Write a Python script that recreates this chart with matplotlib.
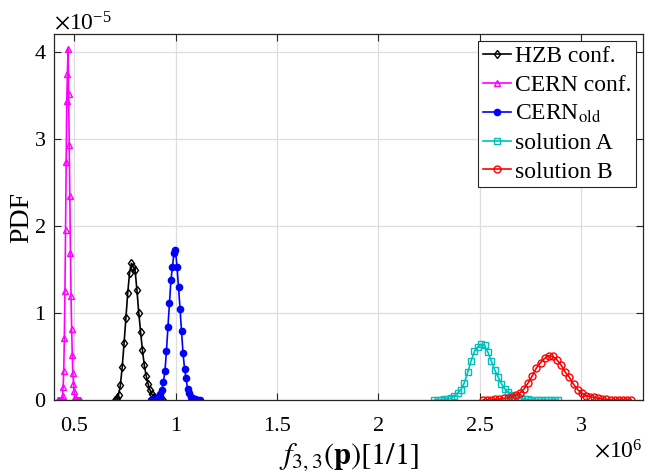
import matplotlib
matplotlib.use("Agg")
import matplotlib.pyplot as plt
from matplotlib import ticker
import numpy as np

plt.rcParams['font.family'] = ['Liberation Serif', 'DejaVu Serif']
plt.rcParams['mathtext.fontset'] = 'stix'

# x grid ends (x 1e6) and density values (x 1e-5)
hzb_range = (0.700, 0.936)
hzb_pdf = [0.00, 0.02, 0.06, 0.17, 0.38, 0.65, 0.94, 1.23, 1.46, 1.57, 1.53, 1.49,
           1.26, 1.00, 0.78, 0.57, 0.40, 0.28, 0.19, 0.12, 0.07, 0.04, 0.02, 0.01,
           0.00, 0.00, 0.00]

cern_range = (0.418, 0.529)
cern_pdf = [0.00, 0.00, 0.00, 0.00, 0.00, 0.00, 0.00, 0.02, 0.05, 0.15, 0.33, 0.71,
            1.25, 1.95, 2.73, 3.43, 3.74, 4.03, 3.51, 2.93, 2.34, 1.69, 1.20, 0.82,
            0.52, 0.31, 0.19, 0.10, 0.04, 0.01, 0.00, 0.00, 0.00, 0.00, 0.00, 0.00,
            0.00, 0.00]

old_range = (0.880, 1.118)
old_pdf = [0.00, 0.00, 0.01, 0.01, 0.02, 0.04, 0.07, 0.11, 0.21, 0.33, 0.56, 0.84,
           1.11, 1.38, 1.53, 1.69, 1.72, 1.53, 1.30, 1.05, 0.79, 0.54, 0.36, 0.25,
           0.13, 0.08, 0.04, 0.02, 0.01, 0.01, 0.00, 0.00, 0.00]

solA_range = (2.275, 2.886)
solA_pdf = [0.00, 0.00, 0.00, 0.01, 0.01, 0.02, 0.05, 0.08, 0.12, 0.20, 0.32, 0.45,
            0.56, 0.61, 0.64, 0.63, 0.55, 0.45, 0.35, 0.27, 0.19, 0.13, 0.09, 0.06,
            0.04, 0.03, 0.02, 0.01, 0.01, 0.00, 0.00, 0.00, 0.00, 0.00, 0.00, 0.00,
            0.00, 0.00]

solB_range = (2.515, 3.246)
solB_pdf = [0.00, 0.00, 0.00, 0.01, 0.01, 0.02, 0.02, 0.04, 0.06, 0.08, 0.13, 0.20,
            0.28, 0.37, 0.43, 0.48, 0.51, 0.50, 0.46, 0.40, 0.32, 0.26, 0.18, 0.12,
            0.08, 0.05, 0.04, 0.03, 0.02, 0.01, 0.01, 0.00, 0.00, 0.00, 0.00, 0.00,
            0.00]

series = [
    ("HZB conf.", hzb_range, hzb_pdf, 'k', 'd', 'none', 4.5),
    ("CERN conf.", cern_range, cern_pdf, (1, 0, 1), '^', 'none', 5),
    ("CERN$_{\\rm old}$", old_range, old_pdf, (0, 0, 1), '.', (0, 0, 1), 9),
    ("solution A", solA_range, solA_pdf, (0, 0.75, 0.75), 's', 'none', 4.5),
    ("solution B", solB_range, solB_pdf, (1, 0, 0), 'o', 'none', 5),
]


class PlainFormatter(ticker.ScalarFormatter):
    def _set_format(self):
        self.format = '%g'


fig = plt.figure(figsize=(6.46, 4.74), dpi=100)
ax = fig.add_axes([0.0836, 0.156, 0.912, 0.772])

for name, rng, pdf, col, mk, mfc, ms in series:
    x = np.linspace(rng[0], rng[1], len(pdf)) * 1e6
    y = np.array(pdf) * 1e-5
    ax.plot(x, y, color=col, marker=mk, markerfacecolor=mfc, markeredgecolor=col,
            markersize=ms, markeredgewidth=1, linewidth=1.2, label=name)

ax.set_xlim(0.40e6, 3.305e6)
ax.set_ylim(0, 4.2e-5)
ax.set_xticks([0.5e6, 1e6, 1.5e6, 2e6, 2.5e6, 3e6])
ax.set_yticks([0, 1e-5, 2e-5, 3e-5, 4e-5])
for axis in (ax.xaxis, ax.yaxis):
    fmt = PlainFormatter(useMathText=True)
    fmt.set_powerlimits((0, 0))
    axis.set_major_formatter(fmt)
ax.xaxis.get_offset_text().set_fontsize(17)
ax.yaxis.get_offset_text().set_fontsize(17)

ax.grid(True, color=(0.87, 0.87, 0.87), linewidth=0.9)
ax.set_axisbelow(True)
ax.tick_params(direction='in', top=True, right=True, labelsize=16, length=5,
               width=0.8, colors=(0.15, 0.15, 0.15), labelcolor='k')
ax.tick_params(axis='x', pad=12)
ax.tick_params(axis='y', pad=6)
for sp in ax.spines.values():
    sp.set_color((0.15, 0.15, 0.15))
    sp.set_linewidth(0.9)

ax.set_xlabel("$f_{3,3}(\\mathbf{p})[1/1]$", fontsize=22, labelpad=4)
ax.set_ylabel("PDF", fontsize=20, labelpad=0)

leg = ax.legend(loc='upper right', fontsize=17, fancybox=False, framealpha=1,
                edgecolor=(0.15, 0.15, 0.15), handlelength=1.2, handletextpad=0.15,
                borderpad=0.2, labelspacing=0.3, borderaxespad=0.3)
leg.get_frame().set_linewidth(0.8)

fig.savefig("out.png", dpi=100)
